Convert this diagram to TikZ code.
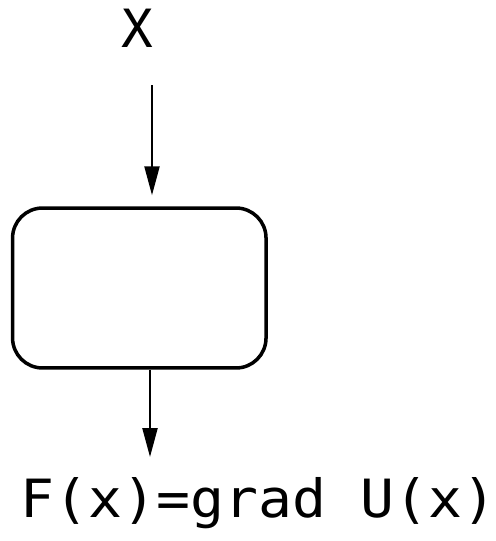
\documentclass[tikz,border=0pt]{standalone}
\usepackage{fontspec}
\usepackage{graphicx}
\usetikzlibrary{arrows.meta, positioning}
\newfontfamily\plotfont{DejaVu Sans Mono}

\begin{document}
\begin{tikzpicture}[
    x=0.02cm, y=-0.02cm,
    >={Triangle[length=0.58cm, width=0.3cm]},
    % --- styles ---
    block/.style={
      draw, rectangle, rounded corners=0.6cm,
      minimum width=5.07cm, minimum height=3.2cm,
      line width=2pt, inner sep=0pt},
    sig/.style={
      font=\plotfont\fontsize{30}{32}\selectfont,
      inner sep=0pt, anchor=base},
    arr/.style={->, line width=1.3pt},
  ]
  \useasboundingbox (0,0) rectangle (495,541);

  % -- block and signals --
  \node[block] (box) at (139.3,288) {};
  \node[sig] (in) at (137.5,48) {X};
  \node[sig] (out) at (258.5,517) {\scalebox{1.07}[1]{F(x)=grad U(x)}};

  % -- arrows --
  \coordinate (tapin) at (152,85);
  \coordinate (tapout) at (150,457);
  \draw[arr, shorten >=0.22cm] (tapin) -- (tapin |- box.north);
  \draw[arr] (tapout |- box.south) -- (tapout);

\end{tikzpicture}
\end{document}
